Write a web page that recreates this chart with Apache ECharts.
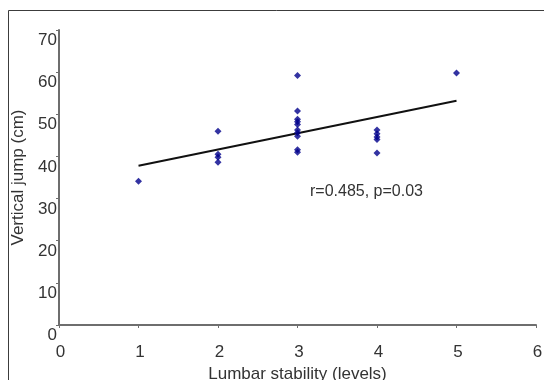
<!DOCTYPE html>
<html>
<head>
<meta charset="utf-8">
<script src="https://cdn.jsdelivr.net/npm/echarts@6/dist/echarts.min.js"></script>
<style>
html,body{margin:0;padding:0;background:#fff;}
#c{width:544px;height:380px;}
</style>
</head>
<body>
<div id="c"></div>
<script>
// Data
var stabilityLevels = [1, 2, 2, 2, 2, 3, 3, 3, 3, 3, 3, 3, 3, 3, 3, 4, 4, 4, 4, 4, 5];
var verticalJump   = [34.1, 46.0, 40.5, 39.8, 38.6, 59.2, 50.8, 48.8, 48.2, 47.6, 46.3, 45.6, 44.8, 41.6, 41.0, 46.3, 45.4, 44.6, 44.0, 40.8, 59.8];
var fitLineX = [1, 5];
var fitLineY = [37.8, 53.2];
var xTickLabels = ['0', '1', '2', '3', '4', '5', '6'];
var yTickLabels = ['0', '10', '20', '30', '40', '50', '60', '70'];
var annotationText = 'r=0.485, p=0.03';
var xAxisTitle = 'Lumbar stability (levels)';
var yAxisTitle = 'Vertical jump (cm)';

var scatterData = stabilityLevels.map(function (x, i) { return [x, verticalJump[i]]; });
var fitData = fitLineX.map(function (x, i) { return [x, fitLineY[i]]; });

var font = '"Liberation Sans", Arial, sans-serif';
var textColor = '#333333';
var axisColor = '#6e6e6e';

var chart = echarts.init(document.getElementById('c'), null, { renderer: 'canvas' });
chart.setOption({
  backgroundColor: '#fff',
  animation: false,
  grid: { left: 59, right: 8, top: 30, bottom: 55, containLabel: false, outerBoundsMode: 'none' },
  xAxis: {
    type: 'value', min: 0, max: 6, interval: 1,
    name: xAxisTitle, nameLocation: 'middle', nameGap: 41,
    nameTextStyle: { fontFamily: font, fontSize: 17, color: textColor },
    axisLine: { show: true, lineStyle: { color: axisColor, width: 2 } },
    axisTick: { show: true, length: 3, inside: false, lineStyle: { color: axisColor, width: 1 } },
    axisLabel: {
      fontFamily: font, fontSize: 17, color: textColor, margin: 19,
      padding: [0, 0, 0, 3],
      formatter: function (v) { return xTickLabels[Math.round(v)]; }
    },
    splitLine: { show: false }
  },
  yAxis: {
    type: 'value', min: 0, max: 70, interval: 10,
    name: yAxisTitle, nameLocation: 'middle', nameGap: 23,
    nameTextStyle: { fontFamily: font, fontSize: 17, color: textColor },
    axisLine: { show: true, lineStyle: { color: axisColor, width: 2 } },
    axisTick: { show: true, length: 3, inside: false, lineStyle: { color: axisColor, width: 1 } },
    axisLabel: {
      fontFamily: font, fontSize: 17, color: textColor, margin: 2,
      verticalAlign: 'top', padding: [2, 0, 0, 0],
      formatter: function (v) { return yTickLabels[Math.round(v / 10)]; }
    },
    splitLine: { show: false }
  },
  graphic: [
    {
      type: 'rect', silent: true, z: 0,
      shape: { x: 8.5, y: 10.5, width: 700, height: 500 },
      style: { fill: null, stroke: '#3c3c3c', lineWidth: 1 }
    },
    {
      type: 'text', left: 310, top: 184, z: 10,
      style: { text: annotationText, fontFamily: font, fontSize: 16, fill: textColor }
    }
  ],
  series: [
    {
      type: 'line', data: fitData, symbol: 'none', z: 3,
      lineStyle: { color: '#111', width: 2 }
    },
    {
      type: 'scatter', data: scatterData, symbol: 'diamond', symbolSize: 7, z: 4,
      itemStyle: { color: '#00008b' }
    }
  ]
});
</script>
</body>
</html>
